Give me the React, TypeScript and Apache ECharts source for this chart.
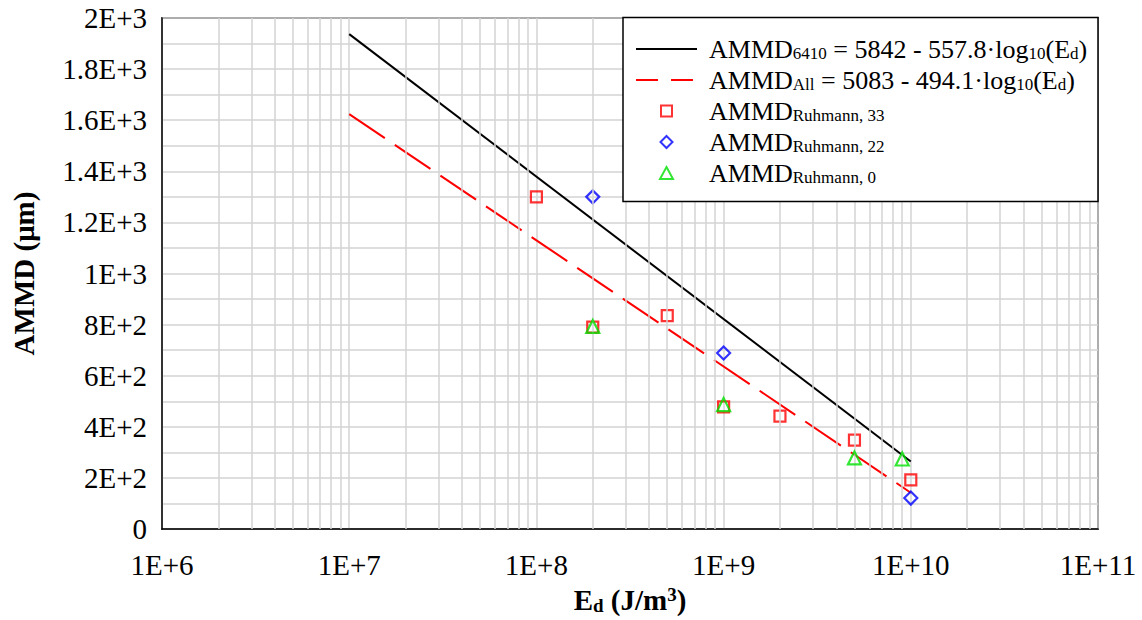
import React, { useEffect, useRef } from 'react';
import * as echarts from 'echarts';

const FONT = "'Liberation Serif', 'Times New Roman', serif";

// Fit lines (end points)
const fit6410X = [1e7, 1e10];
const fit6410Y = [1937, 264];
const fitAllX = [1e7, 1e10];
const fitAllY = [1624, 142];

// Ruhmann measurements
const r33X = [1e8, 2e8, 5e8, 1e9, 2e9, 5e9, 1e10];
const r33Y = [1300, 790, 835, 478, 442, 348, 192];
const r22X = [2e8, 1e9, 1e10];
const r22Y = [1300, 689, 121];
const r0X = [2e8, 1e9, 5e9, 9e9];
const r0Y = [793, 487, 278, 274];

// Axis settings
const xDecades = [1e6, 1e7, 1e8, 1e9, 1e10];
const minorMultipliers = [2, 3, 4, 5, 6, 7, 8, 9];

const legendLabels: Record<string, string> = {
  fit6410: '{f|AMMD}{s|6410}{m| = 5842 - 557.8·log}{s|10}{m|(E}{s|d}{m|)}',
  fitAll: '{f|AMMD}{s|All}{m| = 5083 - 494.1·log}{s|10}{m|(E}{s|d}{m|)}',
  r33: '{f|AMMD}{s|Ruhmann, 33}',
  r22: '{f|AMMD}{s|Ruhmann, 22}',
  r0: '{f|AMMD}{s|Ruhmann, 0}',
};

// legend icons: invisible corner moves keep the 61x12 icon box so markers are not stretched
const ICON_SQUARE = 'path://M0,0M61,12M25,0.5L36,0.5L36,11.5L25,11.5Z';
const ICON_DIAMOND = 'path://M0,0M61,12M30.5,0L36.5,6L30.5,12L24.5,6Z';
const ICON_TRIANGLE = 'path://M0,0M61,12M30.5,0L37,12L24,12Z';

const zip = (xs: number[], ys: number[]) => xs.map((x, i) => [x, ys[i]]);

const fmtY = (v: number) => {
  if (v === 0) return '0';
  const e = Math.floor(Math.log10(v) + 1e-9);
  const m = Math.round((v / Math.pow(10, e)) * 10) / 10;
  return `${m}E+${e}`;
};

const GRID_COLOR = '#d3d3d3';

export default function App() {
  const ref = useRef<HTMLDivElement>(null);
  useEffect(() => {
    if (!ref.current) return;
    const chart = echarts.init(ref.current, undefined, { renderer: 'svg' });
    const minorX: number[] = [];
    xDecades.forEach((d) => minorMultipliers.forEach((m) => minorX.push(d * m)));

    const hollow = (c: string) => ({ color: 'rgba(0,0,0,0)', borderColor: c, borderWidth: 2.2 });
    const noSymbol = { color: 'rgba(0,0,0,0)', borderColor: 'rgba(0,0,0,0)', borderWidth: 0, opacity: 0 };

    chart.setOption({
      animation: false,
      backgroundColor: '#fff',
      textStyle: { fontFamily: FONT },
      grid: {
        left: 162,
        right: 44,
        top: 18,
        bottom: 91,
        show: true,
        borderColor: '#000',
        borderWidth: 1.5,
        backgroundColor: 'transparent',
      },
      xAxis: {
        type: 'log',
        logBase: 10,
        min: 1e6,
        max: 1e11,
        splitNumber: 5,
        axisLine: { show: true, lineStyle: { color: '#000', width: 1.5 } },
        axisTick: { show: false },
        axisLabel: {
          fontSize: 29,
          color: '#000',
          fontFamily: FONT,
          margin: 21,
          formatter: (v: number) => `1E+${Math.round(Math.log10(v))}`,
        },
        splitLine: { show: true, lineStyle: { color: GRID_COLOR, width: 1.5 } },
        name: '{b|E}{bs|d}{b| (J/m}{sup|3}{b|)}',
        nameLocation: 'middle',
        nameGap: 56,
        nameTextStyle: {
          rich: {
            b: { fontFamily: FONT, fontSize: 29, fontWeight: 'bold', color: '#000', lineHeight: 30 },
            bs: { fontFamily: FONT, fontSize: 19, fontWeight: 'bold', color: '#000', lineHeight: 14, verticalAlign: 'bottom' },
            sup: { fontFamily: FONT, fontSize: 19, fontWeight: 'bold', color: '#000', lineHeight: 16, verticalAlign: 'top' },
          },
        },
      },
      yAxis: {
        type: 'value',
        min: 0,
        max: 2000,
        interval: 200,
        axisLine: { show: true, lineStyle: { color: '#000', width: 1.5 } },
        axisTick: { show: false },
        axisLabel: {
          fontSize: 29,
          color: '#000',
          fontFamily: FONT,
          margin: 15,
          formatter: (v: number) => fmtY(v),
        },
        splitLine: { show: true, lineStyle: { color: GRID_COLOR, width: 1.5 } },
        minorTick: { show: false, splitNumber: 2 },
        minorSplitLine: { show: true, lineStyle: { color: GRID_COLOR, width: 1.5 } },
        name: 'AMMD (μm)',
        nameLocation: 'middle',
        nameGap: 124,
        nameTextStyle: { fontFamily: FONT, fontSize: 29, fontWeight: 'bold', color: '#000' },
      },
      graphic: [
        {
          type: 'rect',
          z: 9,
          shape: { x: 623, y: 17.5, width: 475, height: 184 },
          style: { fill: '#fff', stroke: '#000', lineWidth: 1.5 },
        },
      ],
      legend: {
        z: 10,
        orient: 'vertical',
        left: 635,
        top: 36,
        padding: 0,
        itemGap: 5,
        itemWidth: 61,
        itemHeight: 12,
        selectedMode: false,
        data: [
          { name: 'fit6410', itemStyle: noSymbol },
          { name: 'fitAll', itemStyle: noSymbol, lineStyle: { type: [22, 13] } },
          { name: 'r33', icon: ICON_SQUARE },
          { name: 'r22', icon: ICON_DIAMOND },
          { name: 'r0', icon: ICON_TRIANGLE },
        ],
        formatter: (name: string) => legendLabels[name],
        textStyle: {
          rich: {
            f: { fontFamily: FONT, fontSize: 26, color: '#000', lineHeight: 26, padding: [0, 0, 0, 7] },
            m: { fontFamily: FONT, fontSize: 26, color: '#000', lineHeight: 26 },
            s: { fontFamily: FONT, fontSize: 17, color: '#000', lineHeight: 12, verticalAlign: 'bottom' },
          },
        },
      },
      series: [
        {
          name: 'minorGrid',
          type: 'line',
          data: [],
          z: 1,
          silent: true,
          markLine: {
            silent: true,
            symbol: ['none', 'none'],
            label: { show: false },
            lineStyle: { color: GRID_COLOR, width: 1.5, type: 'solid' },
            data: minorX.map((x) => ({ xAxis: x })),
          },
        },
        {
          name: 'fit6410',
          type: 'line',
          data: zip(fit6410X, fit6410Y),
          symbol: 'none',
          z: 3,
          lineStyle: { color: '#000', width: 2 },
          itemStyle: { color: '#000' },
        },
        {
          name: 'fitAll',
          type: 'line',
          data: zip(fitAllX, fitAllY),
          symbol: 'none',
          z: 3,
          lineStyle: { color: '#ff0000', width: 2, type: [43, 12] },
          itemStyle: { color: '#ff0000' },
        },
        {
          name: 'r33',
          type: 'scatter',
          data: zip(r33X, r33Y),
          symbol: 'rect',
          symbolSize: 11,
          z: 4,
          itemStyle: hollow('#ff0000'),
        },
        {
          name: 'r22',
          type: 'scatter',
          data: zip(r22X, r22Y),
          symbol: 'diamond',
          symbolSize: 13,
          z: 4,
          itemStyle: hollow('#0000ff'),
        },
        {
          name: 'r0',
          type: 'scatter',
          data: zip(r0X, r0Y),
          symbol: 'triangle',
          symbolSize: 13,
          z: 5,
          itemStyle: hollow('#00e000'),
        },
      ],
    });
    return () => chart.dispose();
  }, []);
  return (
    <div
      ref={ref}
      style={{ position: 'fixed', left: 0, top: 0, width: 1142, height: 620, background: '#fff' }}
    />
  );
}
